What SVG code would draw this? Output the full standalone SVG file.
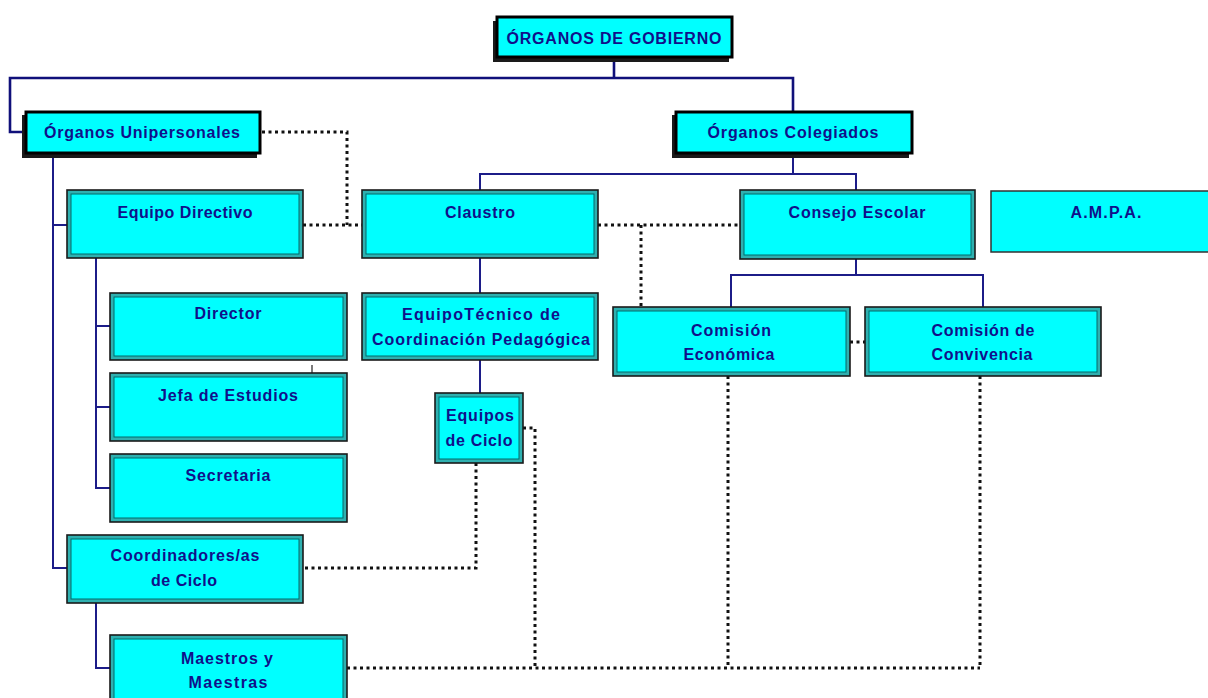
<svg xmlns="http://www.w3.org/2000/svg" width="1208" height="698" viewBox="0 0 1208 698">
<style>
.t{font-family:"Liberation Sans",Arial,sans-serif;font-weight:bold;font-size:16px;fill:#10108a;text-anchor:middle}
.shadow{fill:#1a1a1a}
.main{fill:#00ffff;stroke:#000;stroke-width:3}
.outer{fill:#2fb0b0;stroke:#1a1a1a;stroke-width:1.6}
.inner{fill:#00ffff;stroke:#006a6a;stroke-width:1}
.single{fill:#00ffff;stroke:#333;stroke-width:1.5}
.solid{fill:none;stroke:#1c1c88;stroke-width:2}
.solidT{fill:none;stroke:#10107a;stroke-width:2.6}
.dot{fill:none;stroke:#111;stroke-width:3;stroke-dasharray:3 3.5}
</style>
<rect width="1208" height="698" fill="#fff"/>
<g id="connectors">
<polyline class="solidT" points="614,58 614,78"/>
<polyline class="solidT" points="25,132 10,132 10,78 793,78 793,111"/>
<polyline class="solid" points="793,154 793,174"/>
<polyline class="solid" points="480,190 480,174 856,174 856,190"/>
<polyline class="solid" points="53,154 53,568 67,568"/>
<polyline class="solid" points="53,225 67,225"/>
<polyline class="solid" points="96,258 96,488 110,488"/>
<polyline class="solid" points="96,326 110,326"/>
<polyline class="solid" points="96,407 110,407"/>
<polyline class="solid" points="96,603 96,668 110,668"/>
<polyline class="solid" points="480,258 480,293"/>
<polyline class="solid" points="480,360 480,393"/>
<polyline class="solid" points="856,259 856,275"/>
<polyline class="solid" points="731,307 731,275 983,275 983,307"/>
<line x1="312" y1="365" x2="312" y2="373" stroke="#222" stroke-width="1.2"/>
<polyline class="dot" points="262,132 347,132 347,225"/>
<polyline class="dot" points="303,225 362,225"/>
<polyline class="dot" points="598,225 740,225"/>
<polyline class="dot" points="641,225 641,307"/>
<polyline class="dot" points="850,342 865,342"/>
<polyline class="dot" points="523,428 535,428 535,668"/>
<polyline class="dot" points="476,463 476,568 303,568"/>
<polyline class="dot" points="347,668 980,668"/>
<polyline class="dot" points="728,376 728,668"/>
<polyline class="dot" points="980,376 980,668"/>
</g>
<g id="gobierno">
<rect class="shadow" x="493" y="21" width="236" height="41"/>
<rect class="main" x="497" y="17" width="235" height="40"/>
<text class="t" x="614" y="44" textLength="215" lengthAdjust="spacing">ÓRGANOS DE GOBIERNO</text>
</g>
<g id="unipersonales">
<rect class="shadow" x="22" y="115" width="235" height="43"/>
<rect class="main" x="26" y="112" width="234" height="41"/>
<text class="t" x="142" y="138" textLength="196" lengthAdjust="spacing">Órganos Unipersonales</text>
</g>
<g id="colegiados">
<rect class="shadow" x="672" y="115" width="237" height="43"/>
<rect class="main" x="676" y="112" width="236" height="41"/>
<text class="t" x="793" y="138" textLength="171" lengthAdjust="spacing">Órganos Colegiados</text>
</g>
<g id="equipoDirectivo">
<rect class="outer" x="67" y="190" width="236" height="68"/>
<rect class="inner" x="71" y="194" width="228" height="60"/>
<text class="t" x="185" y="218" textLength="135" lengthAdjust="spacing">Equipo Directivo</text>
</g>
<g id="claustro">
<rect class="outer" x="362" y="190" width="236" height="68"/>
<rect class="inner" x="366" y="194" width="228" height="60"/>
<text class="t" x="480" y="218" textLength="70" lengthAdjust="spacing">Claustro</text>
</g>
<g id="consejoEscolar">
<rect class="outer" x="740" y="190" width="235" height="69"/>
<rect class="inner" x="744" y="194" width="227" height="61"/>
<text class="t" x="857" y="218" textLength="137" lengthAdjust="spacing">Consejo Escolar</text>
</g>
<g id="ampa">
<rect class="single" x="991" y="191" width="222" height="61"/>
<text class="t" x="1106" y="218" textLength="71" lengthAdjust="spacing">A.M.P.A.</text>
</g>
<g id="director">
<rect class="outer" x="110" y="293" width="237" height="67"/>
<rect class="inner" x="114" y="297" width="229" height="59"/>
<text class="t" x="228" y="319" textLength="67" lengthAdjust="spacing">Director</text>
</g>
<g id="jefaEstudios">
<rect class="outer" x="110" y="373" width="237" height="68"/>
<rect class="inner" x="114" y="377" width="229" height="60"/>
<text class="t" x="228" y="401" textLength="140" lengthAdjust="spacing">Jefa de Estudios</text>
</g>
<g id="secretaria">
<rect class="outer" x="110" y="454" width="237" height="68"/>
<rect class="inner" x="114" y="458" width="229" height="60"/>
<text class="t" x="228" y="481" textLength="85" lengthAdjust="spacing">Secretaria</text>
</g>
<g id="equipoTecnico">
<rect class="outer" x="362" y="293" width="236" height="67"/>
<rect class="inner" x="366" y="297" width="228" height="59"/>
<text class="t" x="481" y="320" textLength="158" lengthAdjust="spacing">EquipoTécnico de</text>
<text class="t" x="481" y="345" textLength="218" lengthAdjust="spacing">Coordinación Pedagógica</text>
</g>
<g id="equiposCiclo">
<rect class="outer" x="435" y="393" width="88" height="70"/>
<rect class="inner" x="439" y="397" width="80" height="62"/>
<text class="t" x="480" y="421" textLength="68" lengthAdjust="spacing">Equipos</text>
<text class="t" x="479" y="446" textLength="67" lengthAdjust="spacing">de Ciclo</text>
</g>
<g id="coordinadores">
<rect class="outer" x="67" y="535" width="236" height="68"/>
<rect class="inner" x="71" y="539" width="228" height="60"/>
<text class="t" x="185" y="561" textLength="149" lengthAdjust="spacing">Coordinadores/as</text>
<text class="t" x="184" y="586" textLength="66" lengthAdjust="spacing">de Ciclo</text>
</g>
<g id="maestros">
<rect class="outer" x="110" y="635" width="237" height="72"/>
<rect class="inner" x="114" y="639" width="229" height="64"/>
<text class="t" x="227" y="664" textLength="92" lengthAdjust="spacing">Maestros y</text>
<text class="t" x="228" y="688" textLength="79" lengthAdjust="spacing">Maestras</text>
</g>
<g id="comisionEconomica">
<rect class="outer" x="613" y="307" width="237" height="69"/>
<rect class="inner" x="617" y="311" width="229" height="61"/>
<text class="t" x="731" y="336" textLength="80" lengthAdjust="spacing">Comisión</text>
<text class="t" x="729" y="360" textLength="91" lengthAdjust="spacing">Económica</text>
</g>
<g id="comisionConvivencia">
<rect class="outer" x="865" y="307" width="236" height="69"/>
<rect class="inner" x="869" y="311" width="228" height="61"/>
<text class="t" x="983" y="336" textLength="103" lengthAdjust="spacing">Comisión de</text>
<text class="t" x="982" y="360" textLength="101" lengthAdjust="spacing">Convivencia</text>
</g>
</svg>
